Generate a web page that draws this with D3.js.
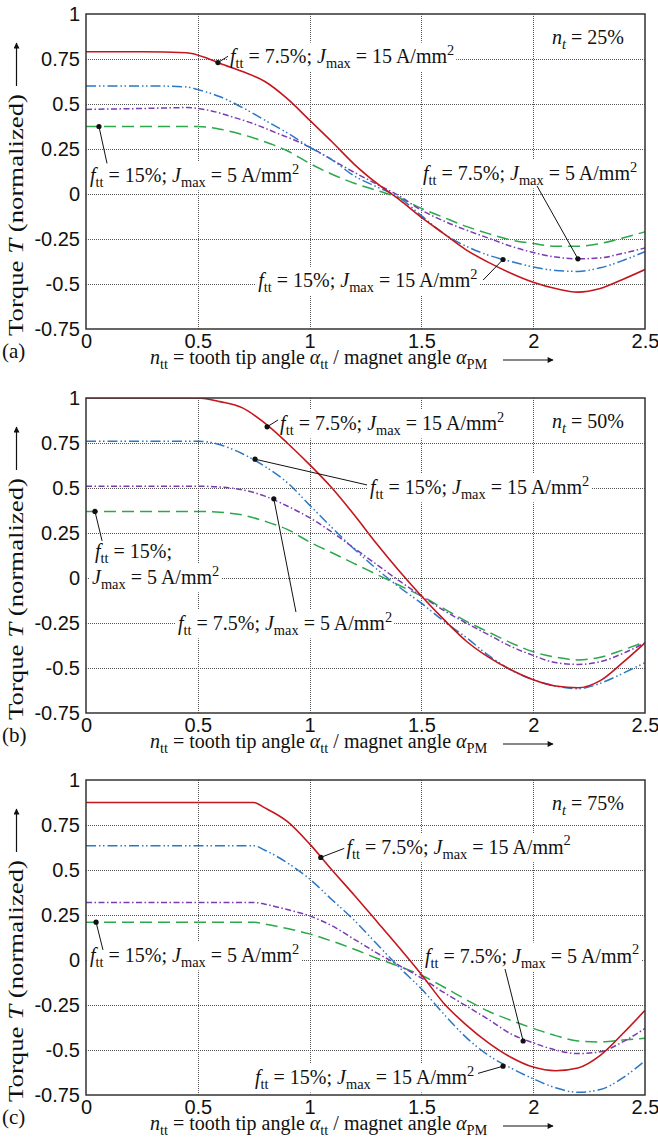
<!DOCTYPE html>
<html><head><meta charset="utf-8">
<script src="https://cdn.jsdelivr.net/npm/d3@7"></script>
<style>
html,body{margin:0;padding:0;background:#fff;}
svg{display:block;font-family:"Liberation Serif","Times New Roman",serif;}
text{white-space:pre;}
</style></head><body>
<svg id="chart" width="658" height="1139"></svg>
<script>
// Axis ticks
const xTicks = [0, 0.5, 1, 1.5, 2, 2.5];
const xTickLabels = ["0", "0.5", "1", "1.5", "2", "2.5"];
const yTicks = [1, 0.75, 0.5, 0.25, 0, -0.25, -0.5, -0.75];
const yTickLabels = ["1", "0.75", "0.5", "0.25", "0", "-0.25", "-0.5", "-0.75"];

// Normalized torque vs n_tt, panel (a): n_t = 25 %
const redA = [[0,0.79],[0.25,0.79],[0.45,0.785],[0.55,0.75],[0.6,0.725],[0.7,0.68],[0.8,0.625],[0.9,0.53],[1.0,0.41],[1.1,0.29],[1.2,0.165],[1.3,0.06],[1.4,-0.03],[1.5,-0.13],[1.6,-0.22],[1.7,-0.31],[1.8,-0.38],[1.9,-0.44],[2.0,-0.49],[2.1,-0.525],[2.2,-0.545],[2.3,-0.525],[2.4,-0.475],[2.5,-0.42]];
const blueA = [[0,0.6],[0.3,0.6],[0.45,0.595],[0.5,0.58],[0.6,0.54],[0.7,0.48],[0.8,0.41],[0.9,0.34],[1.0,0.26],[1.1,0.19],[1.2,0.1],[1.3,0.04],[1.4,-0.02],[1.5,-0.12],[1.6,-0.22],[1.7,-0.29],[1.8,-0.34],[1.9,-0.375],[2.0,-0.405],[2.1,-0.425],[2.2,-0.43],[2.3,-0.41],[2.4,-0.37],[2.5,-0.32]];
const purpleA = [[0,0.47],[0.25,0.475],[0.45,0.48],[0.55,0.465],[0.65,0.43],[0.75,0.39],[0.85,0.34],[0.95,0.29],[1.0,0.26],[1.1,0.19],[1.2,0.12],[1.3,0.055],[1.4,-0.01],[1.5,-0.09],[1.6,-0.15],[1.7,-0.2],[1.8,-0.245],[1.9,-0.29],[2.0,-0.325],[2.1,-0.35],[2.2,-0.36],[2.3,-0.355],[2.4,-0.33],[2.5,-0.3]];
const greenA = [[0,0.375],[0.5,0.375],[0.6,0.36],[0.7,0.33],[0.8,0.29],[0.9,0.24],[1.0,0.17],[1.1,0.11],[1.2,0.06],[1.3,0.02],[1.4,-0.02],[1.5,-0.08],[1.6,-0.13],[1.7,-0.18],[1.8,-0.22],[1.9,-0.255],[2.0,-0.275],[2.1,-0.29],[2.2,-0.29],[2.3,-0.275],[2.4,-0.245],[2.5,-0.21]];

// Panel (b): n_t = 50 %
const redB = [[0,1],[0.5,1],[0.6,0.98],[0.7,0.945],[0.8,0.86],[0.9,0.75],[1.0,0.63],[1.1,0.5],[1.2,0.35],[1.3,0.19],[1.4,0.04],[1.5,-0.1],[1.6,-0.23],[1.7,-0.35],[1.8,-0.44],[1.9,-0.51],[2.0,-0.565],[2.1,-0.6],[2.2,-0.61],[2.3,-0.57],[2.4,-0.47],[2.5,-0.36]];
const blueB = [[0,0.76],[0.5,0.76],[0.55,0.755],[0.6,0.74],[0.7,0.69],[0.8,0.62],[0.9,0.53],[1.0,0.405],[1.1,0.28],[1.2,0.16],[1.3,0.05],[1.4,-0.05],[1.5,-0.14],[1.6,-0.24],[1.7,-0.33],[1.8,-0.43],[1.9,-0.51],[2.0,-0.565],[2.1,-0.6],[2.2,-0.615],[2.3,-0.585],[2.4,-0.53],[2.5,-0.47]];
const purpleB = [[0,0.51],[0.5,0.51],[0.6,0.505],[0.7,0.49],[0.8,0.455],[0.9,0.4],[1.0,0.335],[1.1,0.255],[1.2,0.165],[1.3,0.075],[1.4,-0.015],[1.5,-0.1],[1.6,-0.18],[1.7,-0.25],[1.8,-0.315],[1.9,-0.38],[2.0,-0.43],[2.1,-0.47],[2.2,-0.48],[2.3,-0.465],[2.4,-0.42],[2.5,-0.36]];
const greenB = [[0,0.37],[0.5,0.37],[0.6,0.365],[0.7,0.35],[0.8,0.315],[0.9,0.27],[1.0,0.2],[1.1,0.14],[1.2,0.08],[1.3,0.02],[1.4,-0.04],[1.5,-0.1],[1.6,-0.17],[1.7,-0.24],[1.8,-0.3],[1.9,-0.36],[2.0,-0.41],[2.1,-0.44],[2.2,-0.455],[2.3,-0.44],[2.4,-0.4],[2.5,-0.355]];

// Panel (c): n_t = 75 %
const redC = [[0,0.875],[0.75,0.875],[0.8,0.845],[0.9,0.77],[1.0,0.645],[1.1,0.5],[1.2,0.36],[1.3,0.215],[1.4,0.07],[1.5,-0.08],[1.6,-0.24],[1.7,-0.36],[1.8,-0.46],[1.9,-0.54],[2.0,-0.595],[2.1,-0.615],[2.2,-0.6],[2.3,-0.53],[2.4,-0.41],[2.5,-0.28]];
const blueC = [[0,0.635],[0.75,0.635],[0.8,0.61],[0.9,0.54],[1.0,0.45],[1.1,0.335],[1.2,0.22],[1.3,0.09],[1.4,-0.04],[1.5,-0.16],[1.6,-0.3],[1.7,-0.43],[1.8,-0.53],[1.9,-0.6],[2.0,-0.66],[2.1,-0.71],[2.2,-0.735],[2.3,-0.72],[2.4,-0.655],[2.5,-0.56]];
const purpleC = [[0,0.32],[0.75,0.32],[0.8,0.31],[0.9,0.28],[1.0,0.245],[1.1,0.19],[1.2,0.115],[1.3,0.04],[1.4,-0.03],[1.5,-0.1],[1.6,-0.18],[1.7,-0.255],[1.8,-0.33],[1.9,-0.41],[2.0,-0.46],[2.1,-0.5],[2.2,-0.52],[2.3,-0.51],[2.4,-0.455],[2.5,-0.38]];
const greenC = [[0,0.21],[0.75,0.21],[0.8,0.2],[0.9,0.175],[1.0,0.145],[1.1,0.105],[1.2,0.06],[1.3,0.01],[1.4,-0.035],[1.5,-0.085],[1.6,-0.15],[1.7,-0.22],[1.8,-0.285],[1.9,-0.335],[2.0,-0.38],[2.1,-0.42],[2.2,-0.45],[2.3,-0.455],[2.4,-0.445],[2.5,-0.435]];

// Curve labels (markup: *italic*, _{sub}, ^{sup})
const LBL_75_15 = "*f*_{tt} = 7.5%; *J*_{max} = 15 A/mm^{2}";
const LBL_15_5  = "*f*_{tt} = 15%; *J*_{max} = 5 A/mm^{2}";
const LBL_75_5  = "*f*_{tt} = 7.5%; *J*_{max} = 5 A/mm^{2}";
const LBL_15_15 = "*f*_{tt} = 15%; *J*_{max} = 15 A/mm^{2}";
const panelTags = ["(a)", "(b)", "(c)"];
const ntValues = ["25%", "50%", "75%"];

// Line styles per operating point
const styles = {
  green:  {color: "#2aa84a", dash: "12,6", width: 1.5},
  purple: {color: "#7a3cb4", dash: "6,2.5,1.5,2.5", width: 1.5},
  blue:   {color: "#2a78c6", dash: "10,3,1.5,2.5,1.5,3", width: 1.5},
  red:    {color: "#c4161c", dash: null, width: 1.6}
};

const panels = [
  {top: 14,  series: {green: greenA, purple: purpleA, blue: blueA, red: redA},
   notes: [
     {text: LBL_75_15, dot: [0.59, 0.73], end: [0.635, 0.765], at: [0.644, 0.728]},
     {text: LBL_15_5,  dot: [0.058, 0.375], end: [0.094, 0.17], at: [0.018, 0.067]},
     {text: LBL_75_5,  dot: [2.2, -0.36], end: [2.017, 0.045], at: [1.507, 0.078]},
     {text: LBL_15_15, dot: [1.865, -0.364], end: [1.776, -0.478], at: [0.77, -0.517]}
   ]},
  {top: 398, series: {green: greenB, purple: purpleB, blue: blueB, red: redB},
   notes: [
     {text: LBL_75_15, dot: [0.81, 0.84], end: [0.859, 0.878], at: [0.868, 0.822]},
     {text: LBL_15_15, dot: [0.756, 0.66], end: [1.257, 0.517], at: [1.27, 0.467]},
     {text: "*f*_{tt} = 15%;", dot: [0.04, 0.37], end: [0.072, 0.206], at: [0.04, 0.111]},
     {text: "*J*_{max} = 5 A/mm^{2}", at: [0.027, -0.033]},
     {text: LBL_75_5,  dot: [0.84, 0.44], end: [0.939, -0.189], at: [0.411, -0.289]}
   ]},
  {top: 780, series: {green: greenC, purple: purpleC, blue: blueC, red: redC},
   notes: [
     {text: LBL_75_15, dot: [1.05, 0.57], end: [1.155, 0.62], at: [1.165, 0.59]},
     {text: LBL_15_5,  dot: [0.045, 0.21], end: [0.076, 0.056], at: [0.018, -0.011]},
     {text: LBL_75_5,  dot: [1.955, -0.45], end: [1.874, -0.05], at: [1.516, -0.016]},
     {text: LBL_15_15, dot: [1.865, -0.59], end: [1.753, -0.63], at: [0.756, -0.689]}
   ]}
];

const svg = d3.select("#chart");
const PH = 315, LEFT = 86, RIGHT = 645;
const FS = 20;
const x = d3.scaleLinear().domain([0, 2.5]).range([LEFT, RIGHT]);
const crisp = v => Math.round(v) + 0.5;

const defs = svg.append("defs");
defs.append("marker").attr("id", "arrowhead").attr("viewBox", "0 0 10 10")
  .attr("refX", 9).attr("refY", 5).attr("markerWidth", 9).attr("markerHeight", 6)
  .attr("markerUnits", "userSpaceOnUse").attr("orient", "auto")
  .append("path").attr("d", "M0,0 L10,5 L0,10 Z").attr("fill", "#111");

// Rich text: *italic*, _{subscript}, ^{superscript}
function rich(textSel, str, size) {
  const tokens = str.split(/(\*[^*]+\*|_\{[^}]+\}|\^\{[^}]+\})/).filter(s => s.length);
  let shift = 0;
  tokens.forEach(tok => {
    let txt = tok, italic = false, target = 0, fs = size;
    if (tok.startsWith("_{")) { txt = tok.slice(2, -1); target = size * 0.27; fs = size * 0.72; }
    else if (tok.startsWith("^{")) { txt = tok.slice(2, -1); target = -size * 0.42; fs = size * 0.72; }
    if (txt.length > 2 && txt.startsWith("*") && txt.endsWith("*")) { txt = txt.slice(1, -1); italic = true; }
    const ts = textSel.append("tspan").text(txt).attr("font-size", fs);
    if (italic) ts.attr("font-style", "italic");
    if (target !== shift) { ts.attr("dy", target - shift); shift = target; }
  });
  return textSel;
}

panels.forEach((p, i) => {
  const top = p.top, bottom = top + PH;
  const y = d3.scaleLinear().domain([-0.75, 1]).range([bottom, top]);
  const g = svg.append("g");
  const clipId = "clip" + i;
  defs.append("clipPath").attr("id", clipId).append("rect")
    .attr("x", LEFT).attr("y", top).attr("width", RIGHT - LEFT).attr("height", PH);

  // grid
  const grid = g.append("g").attr("stroke", "#555").attr("stroke-width", 1)
    .attr("stroke-dasharray", "1,1").attr("shape-rendering", "crispEdges");
  grid.selectAll("line.h").data(yTicks.filter(v => v > -0.75 && v < 1)).join("line")
    .attr("x1", LEFT).attr("x2", RIGHT).attr("y1", d => crisp(y(d))).attr("y2", d => crisp(y(d)));
  grid.selectAll("line.v").data(xTicks.filter(v => v > 0 && v < 2.5)).join("line")
    .attr("y1", top).attr("y2", bottom).attr("x1", d => crisp(x(d))).attr("x2", d => crisp(x(d)));

  const bg = g.append("g");
  const curves = g.append("g").attr("clip-path", `url(#${clipId})`);
  const line = d3.line().x(d => x(d[0])).y(d => y(d[1])).curve(d3.curveMonotoneX);
  ["green", "purple", "blue", "red"].forEach(k => {
    const s = styles[k];
    curves.append("path").datum(p.series[k]).attr("d", line)
      .attr("fill", "none").attr("stroke", s.color).attr("stroke-width", s.width)
      .attr("stroke-dasharray", s.dash);
  });

  // frame
  g.append("rect").attr("x", LEFT).attr("y", top).attr("width", RIGHT - LEFT).attr("height", PH)
    .attr("fill", "none").attr("stroke", "#333").attr("stroke-width", 1.5);

  // tick labels via d3 axes
  const yAxis = d3.axisLeft(y).tickValues(yTicks).tickSize(0).tickPadding(6)
    .tickFormat((d, j) => yTickLabels[j]);
  const ya = g.append("g").attr("transform", `translate(${LEFT},0)`).call(yAxis);
  ya.select(".domain").remove();
  ya.selectAll("text").attr("font-size", FS).attr("font-family", null).attr("fill", "#111");

  const xAxis = d3.axisBottom(x).tickValues(xTicks).tickSize(0).tickPadding(5)
    .tickFormat((d, j) => xTickLabels[j]);
  const xa = g.append("g").attr("transform", `translate(0,${bottom})`).call(xAxis);
  xa.select(".domain").remove();
  xa.selectAll("text").attr("font-size", FS).attr("font-family", null).attr("fill", "#111");

  // y title (drawn elongated along its baseline) with arrow
  const yt = g.append("text").attr("text-anchor", "middle").attr("fill", "#111");
  rich(yt, "Torque *T* (normalized)", FS);
  const natural = yt.node().getComputedTextLength();
  yt.attr("transform", `translate(23,${top + 201}) rotate(-90) scale(${242 / natural},1)`);
  g.append("line").attr("x1", 16.5).attr("x2", 16.5).attr("y1", top + 72).attr("y2", top + 29)
    .attr("stroke", "#111").attr("stroke-width", 1.2).attr("marker-end", "url(#arrowhead)");

  // x title with arrow
  const xt = g.append("text").attr("x", 150).attr("y", bottom + 35).attr("fill", "#111");
  rich(xt, "*n*_{tt} = tooth tip angle *α*_{tt} / magnet angle *α*_{PM}", FS);
  g.append("line").attr("x1", 503).attr("x2", 553).attr("y1", bottom + 31).attr("y2", bottom + 31)
    .attr("stroke", "#111").attr("stroke-width", 1.2).attr("marker-end", "url(#arrowhead)");

  g.append("text").attr("x", 2).attr("y", bottom + 29).attr("font-size", 21).attr("fill", "#111")
    .text(panelTags[i]);

  // annotations
  const ann = g.append("g");
  const labelTexts = [];
  p.notes.forEach(n => {
    if (n.dot) {
      ann.append("line").attr("x1", x(n.dot[0])).attr("y1", y(n.dot[1]))
        .attr("x2", x(n.end[0])).attr("y2", y(n.end[1])).attr("stroke", "#111").attr("stroke-width", 1);
      ann.append("circle").attr("cx", x(n.dot[0])).attr("cy", y(n.dot[1])).attr("r", 2.6).attr("fill", "#111");
    }
    const t = ann.append("text").attr("x", x(n.at[0])).attr("y", y(n.at[1])).attr("fill", "#111");
    rich(t, n.text, FS);
    labelTexts.push(t);
  });
  const nt = ann.append("text").attr("x", x(2.084)).attr("y", y(0.833)).attr("fill", "#111");
  rich(nt, "*n*_{*t*} = " + ntValues[i], FS);
  labelTexts.push(nt);

  // white boxes keep grid lines clear of the labels
  labelTexts.forEach(t => {
    const b = t.node().getBBox();
    bg.append("rect").attr("x", b.x - 2).attr("y", b.y + 1).attr("width", b.width + 4)
      .attr("height", b.height - 1).attr("fill", "#fff");
  });
});
</script>
</body></html>
